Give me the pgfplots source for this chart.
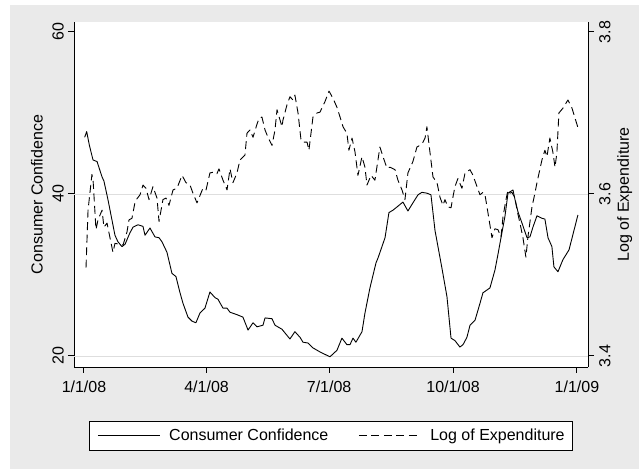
\documentclass[border=0pt]{standalone}
\usepackage{fontspec}
\setmainfont{Liberation Sans}
\usepackage{pgfplots}
\usepackage{pgfplotstable}
\pgfplotsset{compat=1.18}

\definecolor{bggray}{RGB}{234,234,234}
\definecolor{gridgray}{RGB}{222,222,222}

% day of 2008 (0 = 1/1/08), consumer confidence index
\pgfplotstableread{
day cc
0.5 47.0
2.0 47.7
4.0 46.0
6.7 44.2
9.7 44.0
13.4 42.1
14.8 41.6
17.8 39.3
23.0 34.9
25.2 34.1
28.2 33.5
30.5 33.8
34.1 35.2
36.4 35.9
40.1 36.2
43.8 36.0
45.3 34.9
49.0 35.8
52.7 34.7
55.7 34.6
57.9 34.1
61.6 32.8
65.3 30.2
68.3 29.8
71.3 27.8
73.5 26.5
77.2 24.8
80.2 24.3
83.1 24.1
86.1 25.3
89.8 25.9
93.5 27.9
97.3 27.2
99.5 27.0
103.2 25.9
106.2 25.9
108.4 25.4
113.6 25.1
118.0 24.8
121.8 23.2
125.5 24.1
128.4 23.6
132.9 23.8
134.4 24.7
139.6 24.6
141.8 23.8
147.0 23.3
152.9 22.1
156.6 23.0
160.4 22.3
162.6 21.7
166.3 21.6
170.0 21.0
175.2 20.5
178.9 20.2
182.6 19.9
187.8 20.7
191.5 22.2
195.2 21.4
197.5 21.4
199.7 22.2
201.9 21.7
206.4 23.0
208.6 25.3
212.3 28.4
216.8 31.5
218.3 32.1
223.5 34.6
226.4 37.7
229.4 38.0
232.4 38.4
236.8 39.0
240.5 37.9
244.2 38.9
248.0 39.9
250.9 40.2
254.6 40.1
257.6 39.9
260.6 35.5
265.8 30.8
269.5 27.3
272.5 22.2
275.4 21.9
279.1 21.1
281.4 21.4
284.3 22.3
286.6 23.8
290.3 24.4
294.0 26.5
296.2 27.8
301.4 28.4
305.1 30.6
307.3 32.5
309.6 34.6
312.5 37.2
314.8 40.1
318.5 40.5
320.0 39.3
322.2 37.8
325.2 36.4
328.9 34.6
331.1 34.7
333.3 35.9
336.3 37.3
340.0 37.0
342.2 36.9
344.5 34.6
347.4 33.5
348.9 31.0
351.9 30.4
355.6 31.9
360.1 33.1
366.7 37.4
}\ccdata

% day of 2008, log of expenditure
\pgfplotstableread{
day lx
1.5 3.509
3.0 3.580
5.9 3.624
6.7 3.618
8.9 3.556
10.4 3.568
13.4 3.580
14.8 3.559
17.1 3.564
21.5 3.528
23.0 3.539
26.7 3.538
29.0 3.537
31.9 3.553
33.4 3.568
35.6 3.570
37.9 3.590
39.3 3.594
41.6 3.599
43.8 3.611
46.0 3.607
48.3 3.593
51.2 3.609
54.2 3.595
55.7 3.566
58.6 3.593
60.9 3.595
63.1 3.586
66.1 3.605
69.0 3.607
72.8 3.623
75.7 3.614
78.7 3.611
80.9 3.601
83.9 3.589
88.3 3.607
90.6 3.605
93.5 3.626
96.5 3.627
98.7 3.625
100.2 3.631
103.2 3.617
106.2 3.605
108.4 3.631
110.6 3.614
113.6 3.626
115.8 3.642
119.5 3.648
121.0 3.675
123.2 3.679
125.5 3.670
128.4 3.686
129.9 3.693
132.1 3.695
134.4 3.679
136.6 3.670
139.6 3.660
141.8 3.679
143.3 3.704
147.0 3.683
147.7 3.691
150.7 3.710
152.9 3.720
155.2 3.716
156.6 3.722
158.9 3.700
161.1 3.667
162.6 3.664
165.6 3.664
167.0 3.654
170.0 3.695
173.0 3.700
175.2 3.701
178.9 3.714
181.9 3.727
184.9 3.718
187.8 3.707
190.1 3.695
192.3 3.683
195.2 3.675
196.7 3.654
199.0 3.669
201.2 3.652
203.4 3.623
206.4 3.646
208.6 3.633
210.1 3.611
213.1 3.623
216.0 3.617
219.7 3.658
222.0 3.646
224.9 3.632
227.2 3.633
230.9 3.630
233.1 3.617
236.1 3.605
238.3 3.593
240.5 3.626
244.2 3.640
247.2 3.658
249.4 3.660
251.7 3.664
253.2 3.669
254.6 3.683
256.9 3.651
259.1 3.621
262.1 3.614
264.3 3.596
266.5 3.586
268.0 3.593
270.2 3.584
272.5 3.583
273.9 3.596
275.4 3.609
277.6 3.619
280.6 3.607
282.9 3.626
286.6 3.630
288.8 3.623
291.8 3.609
294.0 3.599
296.2 3.602
297.7 3.599
299.9 3.577
302.9 3.546
305.1 3.557
307.3 3.556
309.6 3.547
311.1 3.572
313.3 3.593
314.8 3.605
316.3 3.601
317.7 3.602
320.0 3.595
321.5 3.580
323.7 3.564
325.9 3.546
328.1 3.522
329.6 3.547
332.6 3.584
334.8 3.601
336.3 3.614
340.0 3.642
342.2 3.654
343.7 3.646
345.9 3.669
348.2 3.651
349.7 3.633
351.1 3.651
352.6 3.700
355.6 3.706
359.3 3.716
362.3 3.706
364.5 3.694
366.7 3.682
}\expdata

\pgfplotsset{
  statabase/.style={
    scale only axis, width=514bp, height=345bp,
    at={(74bp,102bp)}, anchor=south west,
    xmin=-7.42, xmax=374.2,
    axis line style={-, line width=1bp, black},
    tick style={line width=1bp, black},
    major tick length=6bp,
    tick align=outside,
    xtick={0,91,182,274,366},
    xticklabels={1/1/08,4/1/08,7/1/08,10/1/08,1/1/09},
  },
}

\begin{document}
\fontsize{16bp}{19bp}\selectfont
\begin{tikzpicture}
\path[use as bounding box] (0,0) rectangle (639bp,469bp);
\fill[bggray] (10bp,0) rectangle (639bp,464bp);

\begin{axis}[statabase,
  axis x line*=bottom, axis y line*=left,
  axis background/.style={fill=white},
  ymin=18.64, ymax=61.23,
  ytick={20,40,60}, yticklabels={20,40,60},
  extra y ticks={20,40}, extra y tick labels={},
  extra y tick style={grid=major, major tick length=0pt,
    major grid style={gridgray, line width=0.8bp}},
  xticklabel style={anchor=north, inner sep=0pt},
  xticklabel shift=8bp,
  yticklabel style={rotate=90, anchor=south, inner sep=0pt},
  yticklabel shift=4bp,
  ylabel={Consumer Confidence},
  every axis y label/.style={at={(axis description cs:-0.0603,0.5)},
    rotate=90, anchor=south, inner sep=0pt},
  legend columns=2,
  legend image code/.code={\draw[#1] (0bp,0bp) -- (62bp,0bp);},
  legend style={at={(0.5,-0.1986)}, anchor=center, draw=black,
    line width=0.8bp, fill=white, inner xsep=8bp, inner ysep=7.5bp,
    nodes={inner sep=0pt}, column sep=9bp,
    /tikz/every even column/.append style={column sep=30bp}},
  legend cell align=left,
]
\addplot[black, line width=0.9bp, line join=round] table[x=day, y=cc] {\ccdata};
\addlegendentry{Consumer Confidence}
\addlegendimage{black, line width=0.9bp, dash pattern=on 8bp off 4.5bp}
\addlegendentry{Log of Expenditure}
\end{axis}

\begin{axis}[statabase,
  hide x axis, axis y line*=right,
  ymin=3.3864, ymax=3.8123,
  ytick={3.4,3.6,3.8}, yticklabels={3.4,3.6,3.8},
  yticklabel style={rotate=90, anchor=north, inner sep=0pt},
  yticklabel shift=5bp,
  ylabel={Log of Expenditure},
  every axis y label/.style={at={(axis description cs:1.0564,0.5)},
    rotate=90, anchor=north, inner sep=0pt},
]
\addplot[black, line width=0.9bp, line join=round, dash pattern=on 8bp off 4.5bp]
  table[x=day, y=lx] {\expdata};
\end{axis}
\end{tikzpicture}
\end{document}
